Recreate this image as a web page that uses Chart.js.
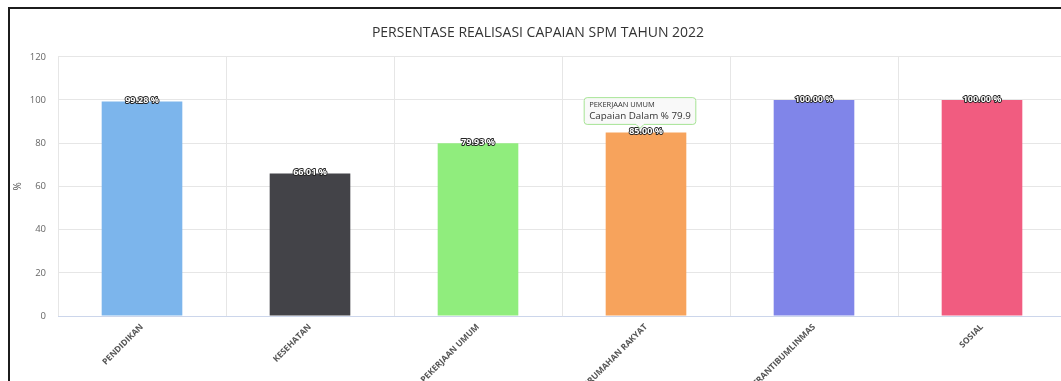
<!DOCTYPE html>
<html>
<head>
<meta charset="utf-8">
<script src="https://cdn.jsdelivr.net/npm/chart.js@4"></script>
<style>
  html, body { margin: 0; padding: 0; background: #fff; overflow: hidden; }
  #wrap { position: relative; width: 1061px; height: 381px; overflow: hidden; }
  #frameL { position: absolute; left: 8px; top: 7px; width: 2px; height: 400px; background: #1c1c1c; }
  #frameT { position: absolute; left: 8px; top: 7px; width: 1100px; height: 2px; background: #1c1c1c; }
  #c { position: absolute; left: 10px; top: 9px; }
</style>
</head>
<body>
<div id="wrap">
<div id="frameL"></div>
<div id="frameT"></div>
<canvas id="c" width="1056" height="400"></canvas>
</div>
<script>
const categories = ['PENDIDIKAN', 'KESEHATAN', 'PEKERJAAN UMUM', 'PERUMAHAN RAKYAT', 'TRANTIBUMLINMAS', 'SOSIAL'];
const values = [99.28, 66.01, 79.93, 85.00, 100.00, 100.00];
const barColors = ['#7cb5ec', '#434348', '#90ed7d', '#f7a35c', '#8085e9', '#f15c80'];
const seriesLabel = 'Capaian Dalam %';
const chartTitle = 'PERSENTASE REALISASI CAPAIAN SPM TAHUN 2022';
const yTicks = [0, 20, 40, 60, 80, 100, 120];
const tooltipIndex = 2;   // category shown in the tooltip
const tooltipAnchor = 3;  // bar the tooltip is pointing at

const FONT = '"Open Sans", "Noto Sans", sans-serif';

const dataLabels = {
  id: 'dataLabels',
  afterDatasetsDraw(chart) {
    const ctx = chart.ctx;
    const meta = chart.getDatasetMeta(0);
    ctx.save();
    ctx.font = 'bold 9px ' + FONT;
    ctx.textAlign = 'center';
    ctx.textBaseline = 'middle';
    ctx.lineJoin = 'round';
    meta.data.forEach((el, i) => {
      const txt = values[i].toFixed(2) + ' %';
      ctx.lineWidth = 1.8;
      ctx.strokeStyle = '#222';
      ctx.strokeText(txt, el.x, el.y - 1);
      ctx.fillStyle = '#fff';
      ctx.fillText(txt, el.x, el.y - 1);
    });
    ctx.restore();
  }
};

const TT = Chart.Tooltip || Chart.registry.getPlugin('tooltip');
TT.positioners.anchorBar = function () {
  const el = this.chart.getDatasetMeta(0).data[tooltipAnchor];
  return { x: el.x - 6, y: el.y - 4 };
};

const chart = new Chart(document.getElementById('c'), {
  type: 'bar',
  data: {
    labels: categories,
    datasets: [{
      label: seriesLabel,
      data: values,
      backgroundColor: barColors,
      borderWidth: 0,
      barPercentage: 0.6,
      categoryPercentage: 0.8
    }]
  },
  options: {
    responsive: false,
    animation: false,
    events: [],
    layout: { padding: 0 },
    plugins: {
      legend: { display: false },
      title: {
        display: true,
        text: chartTitle,
        color: '#333',
        font: { family: FONT, size: 14, weight: 'normal' },
        padding: { top: 16, bottom: 15 }
      },
      tooltip: {
        enabled: true,
        position: 'anchorBar',
        yAlign: 'bottom',
        xAlign: 'center',
        backgroundColor: 'rgba(248,248,248,0.92)',
        borderColor: '#a6e495',
        borderWidth: 1,
        cornerRadius: 3,
        caretSize: 4,
        caretPadding: 0,
        displayColors: false,
        titleColor: '#333',
        bodyColor: '#333',
        titleFont: { family: FONT, size: 7.5, weight: 'normal' },
        bodyFont: { family: FONT, size: 9.8, weight: 'normal' },
        titleMarginBottom: 1,
        padding: { left: 5, right: 5, top: 3, bottom: 2 },
        callbacks: {
          label: (ctx) => ctx.dataset.label + ' ' + Number(ctx.parsed.y).toFixed(1)
        }
      }
    },
    scales: {
      x: {
        grid: { color: '#e6e6e6', drawTicks: false, offset: true },
        border: { color: '#ccd6eb' },
        ticks: {
          color: '#555',
          font: { family: FONT, size: 8.5, weight: 'bold' },
          minRotation: 45,
          maxRotation: 45,
          padding: 6,
          autoSkip: false
        },
        afterFit(scale) { scale.height = 93; }
      },
      y: {
        min: 0,
        max: 120,
        afterBuildTicks(scale) { scale.ticks = yTicks.map(v => ({ value: v })); },
        grid: { color: '#e6e6e6', drawTicks: false },
        border: { display: false },
        ticks: {
          color: '#666',
          font: { family: FONT, size: 9.5 },
          padding: 12
        },
        title: {
          display: true,
          text: '%',
          color: '#555',
          font: { family: FONT, size: 10 },
          padding: { top: 2, bottom: 0 }
        },
        afterFit(scale) { scale.width = 48; }
      }
    }
  },
  plugins: [dataLabels]
});

chart.tooltip.setActiveElements([{ datasetIndex: 0, index: tooltipIndex }], { x: 0, y: 0 });
chart.update();
</script>
</body>
</html>
